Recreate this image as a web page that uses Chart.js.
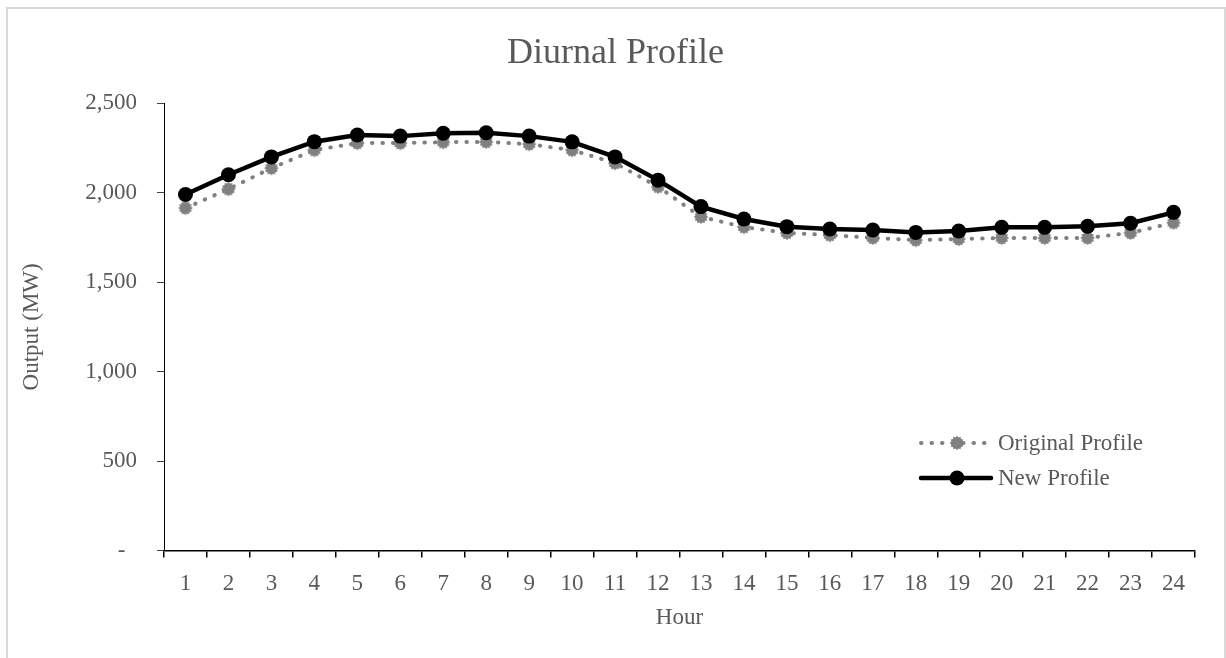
<!DOCTYPE html>
<html>
<head>
<meta charset="utf-8">
<script src="https://cdn.jsdelivr.net/npm/chart.js@4"></script>
<style>
  html, body { margin: 0; padding: 0; background: #fff; overflow: hidden; }
  #chart { position: absolute; left: 0; top: 0; }
  #frame { position: absolute; left: 6px; top: 7px; width: 1216px; height: 700px;
           border: 2px solid #d9d9d9; pointer-events: none; }
</style>
</head>
<body>
<canvas id="chart" width="1226" height="658"></canvas>
<div id="frame"></div>
<script>
// hours on the x axis
const hours = ["1", "2", "3", "4", "5", "6", "7", "8", "9", "10", "11", "12",
  "13", "14", "15", "16", "17", "18", "19", "20", "21", "22", "23", "24"];

// output in MW
const originalProfile = [1914, 2020, 2137, 2238, 2277, 2277, 2282, 2284, 2271, 2238, 2165, 2033,
  1865, 1808, 1775, 1763, 1747, 1735, 1741, 1747, 1747, 1747, 1775, 1832];
const newProfile = [1990, 2100, 2200, 2285, 2322, 2316, 2332, 2335, 2316, 2284, 2200, 2070,
  1922, 1853, 1810, 1797, 1791, 1778, 1786, 1806, 1806, 1812, 1829, 1890];

const seriesNames = ["Original Profile", "New Profile"];

const FONT = "'Liberation Serif', 'Times New Roman', serif";
const TEXT = '#595959';

// little grey "gear" marker like the excel one
function gearMarker(color) {
  const c = document.createElement('canvas');
  c.width = 16; c.height = 16;
  const g = c.getContext('2d');
  g.fillStyle = color;
  g.beginPath();
  const n = 24;
  for (let i = 0; i < n; i++) {
    const a = i / n * Math.PI * 2;
    const r = i % 2 === 0 ? 7.2 : 5.6;
    const px = 8 + r * Math.cos(a), py = 8 + r * Math.sin(a);
    if (i === 0) g.moveTo(px, py); else g.lineTo(px, py);
  }
  g.closePath();
  g.fill();
  return c;
}
const greyGear = gearMarker('#808080');

// legend drawn inside the plot area, bottom right
const insideLegend = {
  id: 'insideLegend',
  afterDraw(chart) {
    const ctx = chart.ctx;
    const rows = [
      { ds: chart.data.datasets[0], y: 443 },
      { ds: chart.data.datasets[1], y: 478 }
    ];
    const x0 = 921, x1 = 991, mx = 957;
    rows.forEach(r => {
      ctx.save();
      ctx.strokeStyle = r.ds.borderColor;
      ctx.lineWidth = r.ds.borderWidth;
      ctx.lineCap = 'round';
      ctx.setLineDash(r.ds.borderDash || []);
      ctx.beginPath();
      ctx.moveTo(x0, r.y);
      ctx.lineTo(x1, r.y);
      ctx.stroke();
      ctx.setLineDash([]);
      if (r.ds.pointStyle === 'circle') {
        ctx.fillStyle = r.ds.pointBackgroundColor;
        ctx.beginPath();
        ctx.arc(mx, r.y, r.ds.pointRadius, 0, Math.PI * 2);
        ctx.fill();
      } else {
        ctx.drawImage(r.ds.pointStyle, mx - 8, r.y - 8);
      }
      ctx.fillStyle = TEXT;
      ctx.font = '23px ' + FONT;
      ctx.textBaseline = 'middle';
      ctx.textAlign = 'left';
      ctx.fillText(r.ds.label, 998, r.y + 1);
      ctx.restore();
    });
  }
};

new Chart(document.getElementById('chart'), {
  type: 'line',
  data: {
    labels: hours,
    datasets: [
      {
        label: seriesNames[0],
        data: originalProfile,
        borderColor: '#808080',
        borderWidth: 4,
        borderDash: [0.5, 10],
        borderCapStyle: 'round',
        pointStyle: greyGear,
        pointBackgroundColor: '#808080',
        pointRadius: 7,
        tension: 0,
        order: 1
      },
      {
        label: seriesNames[1],
        data: newProfile,
        borderColor: '#000000',
        borderWidth: 4.5,
        pointStyle: 'circle',
        pointBackgroundColor: '#000000',
        pointBorderColor: '#000000',
        pointBorderWidth: 0,
        pointRadius: 7.5,
        tension: 0,
        order: 0
      }
    ]
  },
  options: {
    responsive: false,
    animation: false,
    devicePixelRatio: 1,
    layout: { padding: { left: 0, right: 31, top: 0, bottom: 0 } },
    plugins: {
      legend: { display: false },
      tooltip: { enabled: false },
      title: {
        display: true,
        // leading spaces nudge the centred title right, like the excel one
        text: '\u00a0\u00a0\u00a0\u00a0Diurnal Profile',
        color: TEXT,
        font: { family: FONT, size: 36, weight: 'normal' },
        padding: { top: 32, bottom: 28 }
      }
    },
    scales: {
      x: {
        type: 'category',
        offset: true,
        grid: {
          offset: true,
          drawOnChartArea: false,
          drawTicks: true,
          tickLength: 7,
          color: '#000',
          lineWidth: 1.5
        },
        border: { display: true, color: '#000', width: 1.5 },
        ticks: {
          color: TEXT,
          padding: 13,
          maxRotation: 0,
          autoSkip: false,
          font: { family: FONT, size: 23 }
        },
        title: {
          display: true,
          text: 'Hour',
          color: TEXT,
          font: { family: FONT, size: 23 },
          padding: { top: 0, bottom: 26 }
        },
        afterFit: s => { s.height = 107.5; }
      },
      y: {
        min: 0,
        max: 2500,
        grid: {
          drawOnChartArea: false,
          drawTicks: true,
          tickLength: 7,
          color: '#404040',
          lineWidth: 1
        },
        border: { display: true, color: '#000', width: 1 },
        ticks: {
          stepSize: 500,
          color: TEXT,
          padding: 20,
          font: { family: FONT, size: 23 },
          callback: v => v === 0 ? '-\u00a0\u00a0' : v.toLocaleString('en-US')
        },
        title: {
          display: true,
          text: 'Output (MW)',
          color: TEXT,
          font: { family: FONT, size: 23 },
          padding: { top: 18, bottom: 0 }
        },
        afterFit: s => { s.width = 164; }
      }
    }
  },
  plugins: [insideLegend]
});
</script>
</body>
</html>
